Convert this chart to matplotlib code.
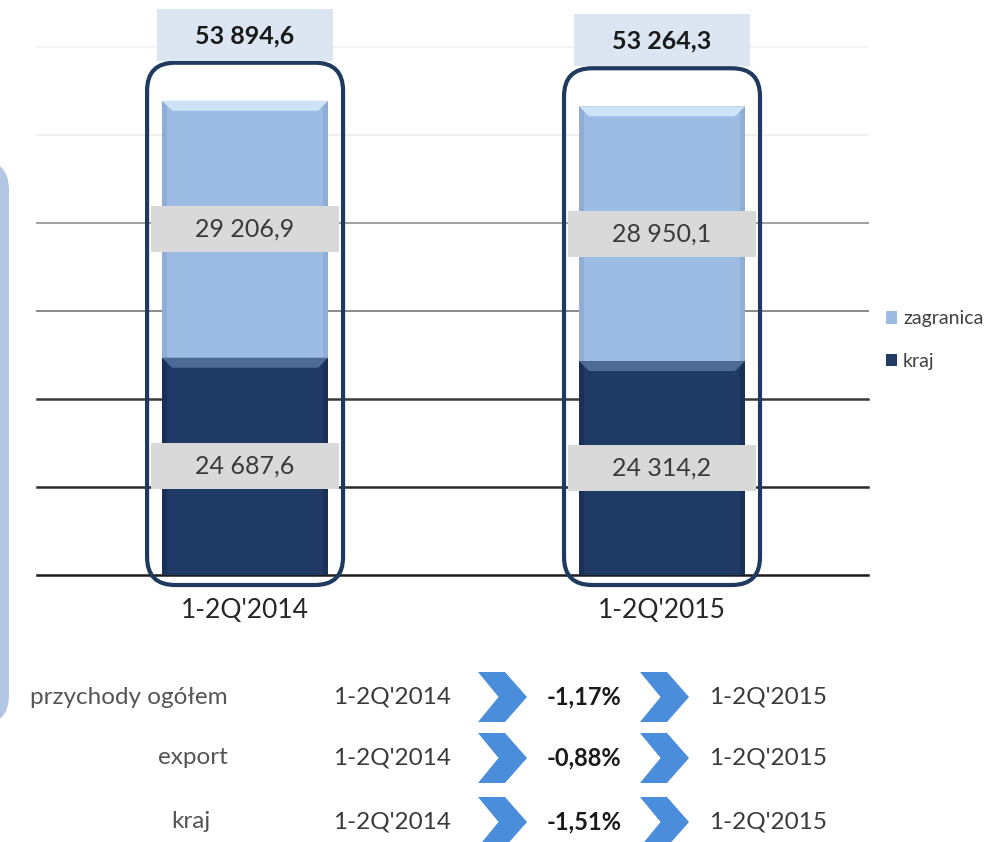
import numpy as np
import matplotlib.pyplot as plt
from matplotlib.patches import FancyBboxPatch, Rectangle, Polygon

plt.rcParams['font.family'] = ['Lato', 'DejaVu Sans']

# dane (tys. zł)
okresy = ["1-2Q'2014", "1-2Q'2015"]
kraj = [24687.6, 24314.2]
zagranica = [29206.9, 28950.1]
ogolem = [53894.6, 53264.3]

# tabela zmian
wiersze = ["przychody ogółem", "export", "kraj"]
zmiany = ["-1,17%", "-0,88%", "-1,51%"]


def fmt(v):
    return f"{v:,.1f}".replace(",", " ").replace(".", ",")


W, H = 1002, 842
fig = plt.figure(figsize=(W / 100, H / 100), dpi=100)
fig.patch.set_facecolor('white')

ax = fig.add_axes([37 / W, 1 - 575 / H, 831 / W, 528 / H])
ax.set_xlim(-0.499, 1.494)
ax.set_ylim(0, 60000)
ax.axis('off')

px_x = 1 / 417          # jednostki danych na piksel w poziomie
px_y = 60000 / 528      # jednostki danych na piksel w pionie

# linie siatki - coraz ciemniejsze ku dołowi
siatka = {0: '#1c1c1c', 10000: '#2b2b2b', 20000: '#3a3a3a',
          30000: '#8a8a8a', 40000: '#a0a0a0', 50000: '#f0f0f0', 60000: '#f4f4f4'}
for v, c in siatka.items():
    ax.axhline(v, color=c, lw=1.8 if v <= 20000 else 1.4, zorder=1, clip_on=False)

x = np.arange(len(okresy))
bw = 166 * px_x
c_kraj = '#1f3a64'
c_zag = '#9dbce3'
b_kraj = ax.bar(x, kraj, bw, color=c_kraj, zorder=3, label='kraj')
b_zag = ax.bar(x, zagranica, bw, bottom=kraj, color=c_zag, zorder=3, label='zagranica')

# efekt fazowania słupków
dx, dy = 10 * px_x, 10 * px_y
for xi, k, z in zip(x, kraj, zagranica):
    for bottom, top, jasny, bok in [(0, k, '#4d6b95', '#19315a'), (k, k + z, '#cfe3f7', '#8eaed8')]:
        l, r = xi - bw / 2, xi + bw / 2
        ax.add_patch(Polygon([(l, bottom), (l + 5 * px_x, bottom), (l + 5 * px_x, top), (l, top)],
                             closed=True, color=bok, zorder=3.2, lw=0))
        ax.add_patch(Polygon([(r, bottom), (r - 5 * px_x, bottom), (r - 5 * px_x, top), (r, top)],
                             closed=True, color=bok, zorder=3.2, lw=0))
        ax.add_patch(Polygon([(l, top), (r, top), (r - dx, top - dy), (l + dx, top - dy)],
                             closed=True, color=jasny, zorder=3.3, lw=0))

# zaokrąglone obramowania wokół słupków
for xi, tot in zip(x, ogolem):
    ramka = FancyBboxPatch((xi - 98 * px_x, -10 * px_y), 196 * px_x, tot + 48 * px_y,
                           boxstyle=f"round,pad=0,rounding_size={28 * px_x}",
                           mutation_aspect=px_y / px_x,
                           facecolor='none', edgecolor='#1f3a5f', lw=3, zorder=4, clip_on=False)
    ax.add_patch(ramka)

# etykiety sumy
for xi, tot in zip(x, ogolem):
    ax.add_patch(Rectangle((xi - 88 * px_x, tot + 40 * px_y), 176 * px_x, 52 * px_y,
                           facecolor='#dce6f2', edgecolor='none', zorder=5, clip_on=False))
    ax.text(xi, tot + 65 * px_y, fmt(tot), ha='center', va='center', fontsize=18,
            fontweight='bold', color='#1a1a1a', zorder=6, clip_on=False)

# etykiety segmentów
for xi, k, z in zip(x, kraj, zagranica):
    for srodek, val in [(k / 2, k), (k + z / 2, z)]:
        ax.add_patch(Rectangle((xi - 94 * px_x, srodek - 23 * px_y), 188 * px_x, 46 * px_y,
                               facecolor='#d9d9d9', edgecolor='none', zorder=5))
        ax.text(xi, srodek, fmt(val), ha='center', va='center', fontsize=18,
                color='#3a3a3a', zorder=6)

# podpisy kategorii
for xi, o in zip(x, okresy):
    ax.text(xi, -36 * px_y, o, ha='center', va='center', fontsize=19, color='#262626', clip_on=False)

# legenda
fig.legend(handles=[b_zag, b_kraj], labels=['zagranica', 'kraj'], loc='center left',
           bbox_to_anchor=(868 / W, 1 - 340 / H), frameon=False, fontsize=14,
           labelcolor='#404040', handlelength=0.6, handleheight=0.6, handletextpad=0.3,
           labelspacing=1.3)

# niebieski pasek po lewej
fig.patches.append(FancyBboxPatch((-120 / W, 1 - 725 / H), 129 / W, 565 / H,
                                  boxstyle=f"round,pad=0,rounding_size={30 / W}",
                                  mutation_aspect=W / H,
                                  transform=fig.transFigure, facecolor='#b3c6e4',
                                  edgecolor='none', figure=fig))


def fy(py):
    return 1 - py / H


def strzalka(x0, yc, w=49, h=50):
    y0, y1 = yc - h / 2, yc + h / 2
    pts = [(x0, y0), (x0 + w * 0.55, y0), (x0 + w, yc), (x0 + w * 0.55, y1), (x0, y1), (x0 + w * 0.42, yc)]
    fig.patches.append(Polygon([(px / W, fy(py)) for px, py in pts], closed=True,
                               transform=fig.transFigure, facecolor='#4a8ddb', edgecolor='none', figure=fig))


# tabela zmian
wiersz_y = [697, 758, 822]
nazwa_x = [(228, 'right'), (193, 'center'), (191, 'center')]
for nazwa, zm, yc, (nx, ha) in zip(wiersze, zmiany, wiersz_y, nazwa_x):
    fig.text(nx / W, fy(yc), nazwa, ha=ha, va='center', fontsize=17.5, color='#555555')
    fig.text(392 / W, fy(yc), okresy[0], ha='center', va='center', fontsize=17.5, color='#3a3a3a')
    strzalka(478, yc)
    fig.text(584 / W, fy(yc), zm, ha='center', va='center', fontsize=17, fontweight='bold', color='#1a1a1a')
    strzalka(640, yc)
    fig.text(768 / W, fy(yc), okresy[1], ha='center', va='center', fontsize=17.5, color='#3a3a3a')

fig.savefig('out.png', dpi=100)
